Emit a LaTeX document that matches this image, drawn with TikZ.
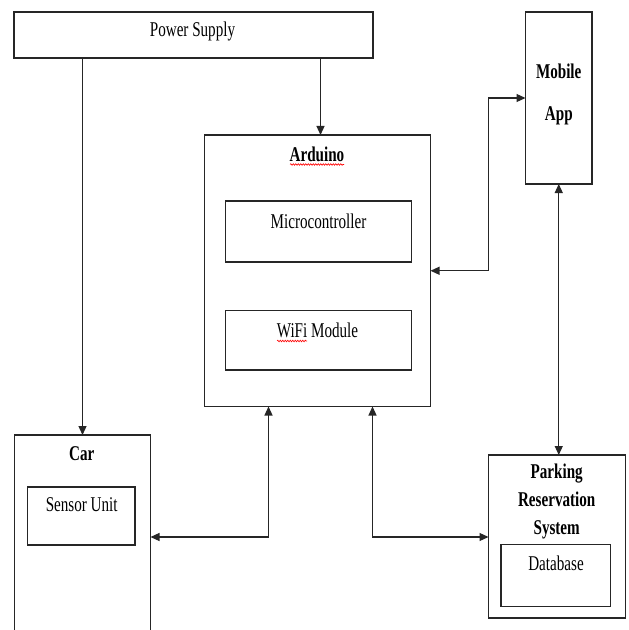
\documentclass[tikz,border=0pt]{standalone}
\usepackage{fontspec}
\setmainfont{Liberation Serif}[FakeStretch=0.72]
\usetikzlibrary{arrows.meta,decorations.pathmorphing}
\begin{document}
\begin{tikzpicture}[x=1bp,y=-1bp,
 box/.style={draw=black!85,line width=1.2bp,inner sep=0,outer sep=0},
 lbl/.style={inner sep=0,anchor=base,font=\fontsize{21bp}{25bp}\selectfont},
 blbl/.style={inner sep=0,anchor=base,font=\fontsize{21bp}{25bp}\selectfont\bfseries},
 conn/.style={draw=black!85,line width=1.2bp},
 arr/.style={conn,-{Triangle[length=9bp,width=8bp]}},
 darr/.style={conn,{Triangle[length=9bp,width=8bp]}-{Triangle[length=9bp,width=8bp]}},
 squig/.style={draw=red,line width=0.6bp,decorate,decoration={snake,amplitude=0.8bp,segment length=2.5bp}}]
\fill[white] (0,0) rectangle (629,630);
\useasboundingbox (0,0) rectangle (629,630);

% boxes
\node[box,minimum width=359bp,minimum height=46bp] (ps) at (193.5,35) {};
\node[box,minimum width=226bp,minimum height=271.5bp] (ard) at (317.5,270.75) {};
\node[box,minimum width=186bp,minimum height=61bp] (mc) at (318.5,231.5) {};
\node[box,minimum width=186bp,minimum height=59.5bp] (wifi) at (318.5,340.25) {};
\node[box,minimum width=66.5bp,minimum height=172bp] (mob) at (558.75,98) {};
\node[box,minimum width=136bp,minimum height=215bp] (car) at (82.5,542.5) {};
\node[box,minimum width=107.5bp,minimum height=58bp] (sen) at (81.25,516) {};
\node[box,minimum width=137bp,minimum height=163bp] (prs) at (557,536.5) {};
\node[box,minimum width=109.5bp,minimum height=62bp] (db) at (555.75,575.5) {};

% texts
\node[lbl] (tps) at (192.5,37) {Power Supply};
\node[blbl] (tard) at (317,162) {Arduino};
\node[lbl] (tmc) at (318.5,228) {Microcontroller};
\node[lbl] (twf) at (317.5,337) {WiFi Module};
\node[blbl] (tmob1) at (558.7,79) {Mobile};
\node[blbl] (tmob2) at (558.8,120.5) {App};
\node[blbl] (tcar) at (81.8,460) {Car};
\node[lbl] (tsen) at (81.7,511) {Sensor Unit};
\node[blbl] (tprs1) at (556.7,478) {Parking};
\node[blbl] (tprs2) at (556.7,506.5) {Reservation};
\node[blbl] (tprs3) at (556.7,534) {System};
\node[lbl] (tdb) at (556,570.5) {Database};

% spell-check squiggles
\draw[squig] (290,164.5) -- (344,164.5);
\draw[squig] (277,341) -- (307,341);

% connectors
\coordinate (pa) at (320.5,0);
\coordinate (cy) at (0,537);
\coordinate (ax1) at (268.5,0);
\coordinate (ax2) at (372.5,0);
\coordinate (jx) at (488.5,0);
\draw[arr] (ps.south -| car.north) -- (car.north);
\draw[arr] (ps.south -| pa) -- (ard.north -| pa);
\draw[darr] (ard.east) -| (jx |- mob.west) -- (mob.west);
\draw[darr] (mob.south) -- (mob.south |- prs.north);
\draw[darr] (car.east |- cy) -| (ax1 |- ard.south);
\draw[darr] (ax2 |- ard.south) |- (prs.west |- cy);
\end{tikzpicture}
\end{document}
